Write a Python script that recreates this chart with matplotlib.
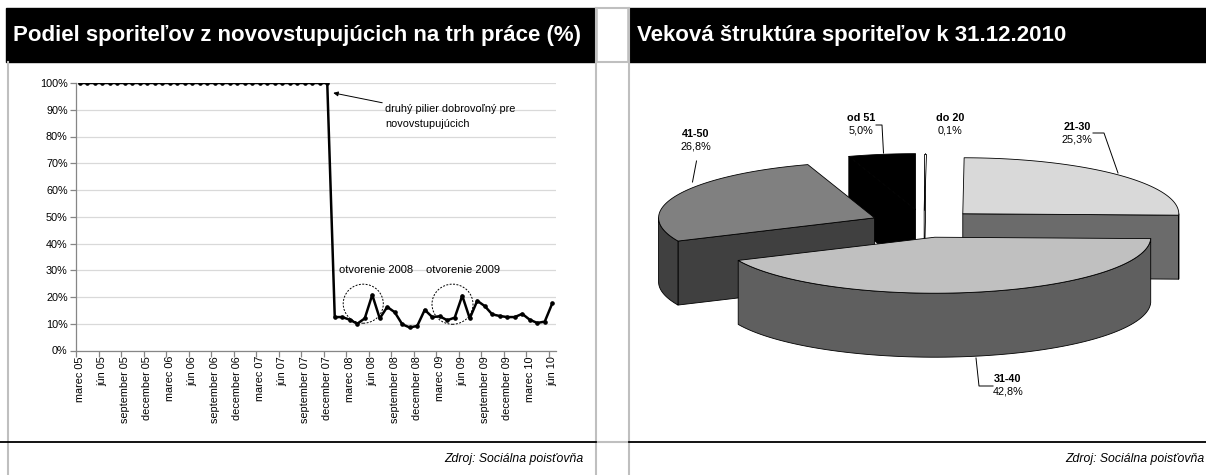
import numpy as np
import matplotlib
matplotlib.use("Agg")
import matplotlib.pyplot as plt
from matplotlib.patches import Polygon, Ellipse, Rectangle

plt.rcParams['font.family'] = ['Liberation Sans', 'DejaVu Sans']

# ---------------- data ----------------
left_title = "Podiel sporiteľov z novovstupujúcich na trh práce (%)"
right_title = "Veková štruktúra sporiteľov k 31.12.2010"
source_text = "Zdroj: Sociálna poisťovňa"

tick_labels = ['marec 05', 'jún 05', 'september 05', 'december 05',
               'marec 06', 'jún 06', 'september 06', 'december 06',
               'marec 07', 'jún 07', 'september 07', 'december 07',
               'marec 08', 'jún 08', 'september 08', 'december 08',
               'marec 09', 'jún 09', 'september 09', 'december 09',
               'marec 10', 'jún 10']

# monthly share (%) from March 2005 to June 2010
share_pct = [100, 100, 100, 100, 100, 100, 100, 100, 100, 100,
             100, 100, 100, 100, 100, 100, 100, 100, 100, 100,
             100, 100, 100, 100, 100, 100, 100, 100, 100, 100,
             100, 100, 100, 100,
             12.5, 12.5, 11.5, 10.0, 12.0, 20.8, 12.0, 16.3, 14.3, 9.8,
             8.6, 9.2, 15.2, 12.5, 12.8, 11.3, 12.3, 20.5, 12.0, 18.6,
             16.6, 13.5, 12.9, 12.5, 12.5, 13.7, 11.5, 10.3, 10.8, 17.6]

arrow_note = "druhý pilier dobrovoľný pre\nnovovstupujúcich"
open_notes = ["otvorenie 2008", "otvorenie 2009"]

pie_labels = ['do 20', '21-30', '31-40', '41-50', 'od 51']
pie_values = [0.1, 25.3, 42.8, 26.8, 5.0]
pie_top_colors = ['#ffffff', '#d9d9d9', '#c0c0c0', '#808080', '#000000']
pie_side_colors = ['#ffffff', '#6b6b6b', '#5f5f5f', '#404040', '#000000']

# ---------------- figure ----------------
W, H = 1206, 475
fig = plt.figure(figsize=(W / 100, H / 100), dpi=100)
bg = fig.add_axes([0, 0, 1, 1], zorder=0)
bg.set_xlim(0, W)
bg.set_ylim(H, 0)
bg.axis('off')

# frames
bg.add_patch(Rectangle((6, 8), 590, 54, color='black', zorder=1))
bg.add_patch(Rectangle((628, 8), 580, 54, color='black', zorder=1))
gray = '#bfbfbf'
bg.plot([7.5, 7.5], [62, H], color=gray, lw=1.5, zorder=1)
bg.plot([595.5, 595.5], [8, H], color=gray, lw=1.5, zorder=1)
bg.plot([629, 629], [8, H], color=gray, lw=1.5, zorder=1)
for yy in (8, 62, 442):
    bg.plot([595.5, 629], [yy, yy], color=gray, lw=1.5, zorder=1)
bg.plot([0, 595.5], [442, 442], color='black', lw=1.3, zorder=2)
bg.plot([629, W], [442, 442], color='black', lw=1.3, zorder=2)

bg.text(13, 35, left_title, color='white', fontweight='bold', fontsize=16,
        va='center', ha='left', zorder=3)
bg.text(637, 35, right_title, color='white', fontweight='bold', fontsize=16,
        va='center', ha='left', zorder=3)
bg.text(583, 459, source_text, fontstyle='italic', fontsize=8.8, ha='right', va='center')
bg.text(1204, 459, source_text, fontstyle='italic', fontsize=8.8, ha='right', va='center')

# ---------------- line chart ----------------
ax = fig.add_axes([76 / W, 1 - 350.5 / H, 480 / W, 267.5 / H], zorder=1)
ax.patch.set_visible(False)
x = np.arange(len(share_pct))
y = np.array(share_pct) / 100.0
ax.plot(x, y, color='black', lw=1.8, marker='o', ms=2.3, zorder=3)
ax.set_xlim(-0.5, len(share_pct) - 0.5)
ax.set_ylim(0, 1.0)
ax.set_yticks(np.arange(0, 1.01, 0.1))
ax.set_yticklabels([f"{int(round(v * 100))}%" for v in np.arange(0, 1.01, 0.1)], fontsize=7.8)
ax.yaxis.grid(True, color='#d9d9d9', lw=0.9)
ax.set_axisbelow(True)
ax.set_xticks(np.arange(0, len(share_pct), 3))
ax.set_xticklabels(tick_labels, rotation=90, fontsize=7.8)
ax.set_xticks(np.arange(-0.5, len(share_pct), 3), minor=True)
ax.tick_params(axis='x', which='major', length=0, pad=4)
ax.tick_params(axis='x', which='minor', length=4, color='#868686', width=0.9)
ax.tick_params(axis='y', length=4, color='#868686', width=0.9, pad=2)
for s in ('top', 'right'):
    ax.spines[s].set_visible(False)
for s in ('left', 'bottom'):
    ax.spines[s].set_color('#868686')
    ax.spines[s].set_linewidth(0.9)

ax.annotate(arrow_note, xy=(33.8, 0.963), xytext=(40.7, 0.875),
            fontsize=7.8, ha='left', va='center', linespacing=1.6,
            arrowprops=dict(arrowstyle='-|>', color='black', lw=0.7,
                            mutation_scale=7, shrinkA=0, shrinkB=0),
            annotation_clip=False)
ax.text(39.5, 0.30, open_notes[0], fontsize=8, ha='center', va='center')
ax.text(51.1, 0.30, open_notes[1], fontsize=8, ha='center', va='center')
ax.add_patch(Ellipse((37.8, 0.175), 5.35, 0.146, fill=False, ls=(0, (2, 1.5)),
                     lw=0.7, color='black', zorder=4))
ax.add_patch(Ellipse((49.7, 0.173), 5.47, 0.150, fill=False, ls=(0, (2, 1.5)),
                     lw=0.7, color='black', zorder=4))

# ---------------- 3D exploded pie (pixel space of right panel) ----------------
cx, cy = 924.0, 223.5
rx, ry, depth, explode = 216.0, 56.0, 64.0, 0.25


def arc(ax0, ay0, t1, t2, dz=0.0, n=80):
    t = np.radians(np.linspace(t1, t2, n))
    return np.column_stack([ax0 + rx * np.sin(t), ay0 - ry * np.cos(t) + dz])


total = float(sum(pie_values))
bounds = np.concatenate([[0.0], np.cumsum(pie_values) / total * 360.0])
slices = []
for i, v in enumerate(pie_values):
    a1, a2 = bounds[i], bounds[i + 1]
    mid = np.radians((a1 + a2) / 2)
    apx = cx + explode * rx * np.sin(mid)
    apy = cy - explode * ry * np.cos(mid)
    slices.append((apy, i, a1, a2, apx))

for apy, i, a1, a2, apx in sorted(slices):
    top_c, side_c = pie_top_colors[i], pie_side_colors[i]
    ek = dict(edgecolor='black', lw=0.6, joinstyle='round')
    polys = []
    if np.sin(np.radians(a1)) < 0:
        p = arc(apx, apy, a1, a1, n=1)[0]
        polys.append(([(apx, apy), tuple(p), (p[0], p[1] + depth), (apx, apy + depth)], side_c))
    if np.sin(np.radians(a2)) > 0:
        p = arc(apx, apy, a2, a2, n=1)[0]
        polys.append(([(apx, apy), tuple(p), (p[0], p[1] + depth), (apx, apy + depth)], side_c))
    lo, hi = max(a1, 90.0), min(a2, 270.0)
    if hi > lo:
        upper = arc(apx, apy, lo, hi)
        lower = arc(apx, apy, hi, lo, dz=depth)
        polys.append((np.vstack([upper, lower]), side_c))
    top = np.vstack([[[apx, apy]], arc(apx, apy, a1, a2)])
    polys.append((top, top_c))
    for pts, c in polys:
        bg.add_patch(Polygon(pts, closed=True, facecolor=c, zorder=5, **ek))


def pie_label(k, x0, y0):
    val = f"{pie_values[k]:.1f}".replace('.', ',') + '%'
    bg.text(x0, y0, pie_labels[k], fontsize=7.8, fontweight='bold', ha='center', va='center', zorder=7)
    bg.text(x0, y0 + 12.5, val, fontsize=7.8, ha='center', va='center', zorder=7)


pie_label(3, 696, 134)
pie_label(4, 861, 118)
pie_label(0, 950, 118)
pie_label(1, 1077, 127)
pie_label(2, 1008, 379)

lk = dict(color='black', lw=0.7, zorder=7)
bg.plot([696.5, 692.5], [161, 182], **lk)
bg.plot([876, 882, 883.5], [125, 125, 153], **lk)
bg.plot([1093, 1104, 1118], [133, 133, 173], **lk)
bg.plot([976, 979, 993], [358, 386, 386], **lk)

fig.savefig("out.png", dpi=100)
